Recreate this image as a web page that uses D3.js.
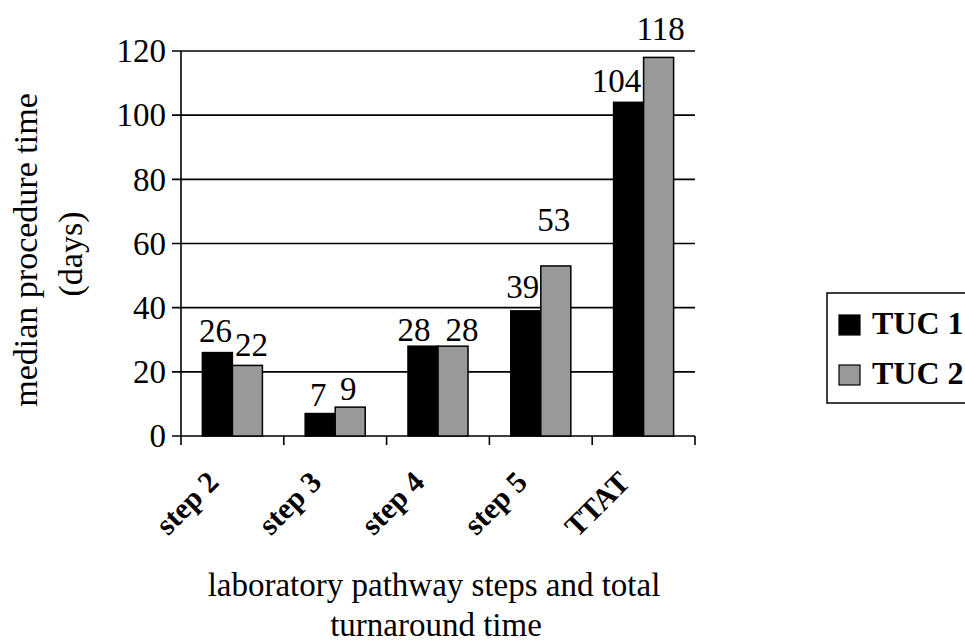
<!doctype html>
<html lang="en">
<head>
<meta charset="utf-8">
<title>Median procedure time</title>
<script src="https://cdn.jsdelivr.net/npm/d3@7"></script>
<style>
  html, body { margin: 0; padding: 0; background: #fff; }
  svg { display: block; }
  text { font-family: "Liberation Serif", "Times New Roman", serif; fill: #000; }
</style>
</head>
<body>
<svg id="chart" width="965" height="644"></svg>
<script>
  //
  // Data
  //
  var categories = ['step 2', 'step 3', 'step 4', 'step 5', 'TTAT']
  var seriesNames = ['TUC 1', 'TUC 2']
  var tuc1 = [26, 7, 28, 39, 104]
  var tuc2 = [22, 9, 28, 53, 118]
  var yTicks = [0, 20, 40, 60, 80, 100, 120]

  //
  // Layout / style
  //
  var colors = ['#000000', '#999999']
  var plot = { left: 181, right: 695, top: 51, bottom: 436 }
  var fontSize = 33
  // hand placed label nudges (px), the original labels were moved around by hand
  var liftBy = [[11, 8, 5, 13, 10], [9, 7, 5, 35, 17]]
  var shiftBy = [[-2, -2, -9, -3, -12], [4, -2, 9, -2, 2]]

  var svg = d3.select('#chart')

  var x = d3.scaleBand()
    .domain(categories)
    .range([plot.left, plot.right])
    .paddingInner(0.416)
    .paddingOuter(0.208)

  var xInner = d3.scaleBand()
    .domain(seriesNames)
    .range([0, x.bandwidth()])

  var y = d3.scaleLinear()
    .domain([0, 120])
    .range([plot.bottom, plot.top])

  // gridlines + y ticks
  svg.append('g').selectAll('line')
    .data(yTicks)
    .join('line')
    .attr('x1', plot.left - 9)
    .attr('x2', plot.right)
    .attr('y1', function (d) { return y(d) })
    .attr('y2', function (d) { return y(d) })
    .attr('stroke', '#000')
    .attr('stroke-width', 1.6)

  svg.append('g').selectAll('text')
    .data(yTicks)
    .join('text')
    .attr('x', plot.left - 15)
    .attr('y', function (d) { return y(d) })
    .attr('dy', '0.34em')
    .attr('text-anchor', 'end')
    .style('font-size', fontSize + 'px')
    .text(function (d) { return d })

  // y axis line
  svg.append('line')
    .attr('x1', plot.left).attr('x2', plot.left)
    .attr('y1', y(120)).attr('y2', y(0))
    .attr('stroke', '#000').attr('stroke-width', 1.6)

  // category ticks on the x axis (at band boundaries)
  var bounds = d3.range(categories.length + 1).map(function (i) {
    return plot.left + i * x.step()
  })
  svg.append('g').selectAll('line')
    .data(bounds)
    .join('line')
    .attr('x1', function (d) { return d })
    .attr('x2', function (d) { return d })
    .attr('y1', y(0))
    .attr('y2', y(0) + 9)
    .attr('stroke', '#000')
    .attr('stroke-width', 1.6)

  // bars
  var series = [tuc1, tuc2]
  series.forEach(function (vals, s) {
    svg.append('g').selectAll('rect')
      .data(vals)
      .join('rect')
      .attr('x', function (d, i) { return x(categories[i]) + xInner(seriesNames[s]) })
      .attr('y', function (d) { return y(d) })
      .attr('width', xInner.bandwidth())
      .attr('height', function (d) { return y(0) - y(d) })
      .attr('fill', colors[s])
      .attr('stroke', '#000')
      .attr('stroke-width', 1.5)
  })

  // value labels
  series.forEach(function (vals, s) {
    svg.append('g').selectAll('text')
      .data(vals)
      .join('text')
      .attr('x', function (d, i) {
        return x(categories[i]) + xInner(seriesNames[s]) + xInner.bandwidth() / 2 + shiftBy[s][i]
      })
      .attr('y', function (d, i) { return y(d) - liftBy[s][i] })
      .attr('text-anchor', 'middle')
      .style('font-size', fontSize + 'px')
      .text(function (d) { return d })
  })

  // category labels, rotated
  svg.append('g').selectAll('text')
    .data(categories)
    .join('text')
    .attr('transform', function (d) {
      var cx = x(d) + x.bandwidth() / 2
      return 'translate(' + (cx - 12) + ',' + (y(0) + 48) + ') rotate(-45)'
    })
    .attr('text-anchor', 'end')
    .style('font-size', '30px')
    .style('font-weight', 'bold')
    .text(function (d) { return d })

  // axis titles
  var midX = (plot.left + plot.right) / 2
  svg.append('text')
    .attr('x', midX - 4).attr('y', 596)
    .attr('text-anchor', 'middle')
    .style('font-size', fontSize + 'px')
    .text('laboratory pathway steps and total')
  svg.append('text')
    .attr('x', midX - 2).attr('y', 636)
    .attr('text-anchor', 'middle')
    .style('font-size', fontSize + 'px')
    .text('turnaround time')

  svg.append('text')
    .attr('transform', 'translate(37,250) rotate(-90)')
    .attr('text-anchor', 'middle')
    .style('font-size', '34px')
    .text('median procedure time')
  svg.append('text')
    .attr('transform', 'translate(82,254) rotate(-90)')
    .attr('text-anchor', 'middle')
    .style('font-size', '34px')
    .text('(days)')

  // legend (runs off the right edge, as in the original)
  var legend = svg.append('g').attr('transform', 'translate(827,293)')
  legend.append('rect')
    .attr('x', 0).attr('y', 0)
    .attr('width', 170).attr('height', 110)
    .attr('fill', 'none')
    .attr('stroke', '#000')
    .attr('stroke-width', 1.5)
  var items = legend.selectAll('g.item')
    .data(seriesNames)
    .join('g')
    .attr('class', 'item')
    .attr('transform', function (d, i) { return 'translate(12,' + (22 + i * 50) + ')' })
  items.append('rect')
    .attr('width', 21).attr('height', 20)
    .attr('fill', function (d, i) { return colors[i] })
    .attr('stroke', '#000')
    .attr('stroke-width', 1.2)
  items.append('text')
    .attr('x', 33).attr('y', 19)
    .style('font-size', '32px')
    .style('font-weight', 'bold')
    .text(function (d) { return d })
</script>
</body>
</html>
